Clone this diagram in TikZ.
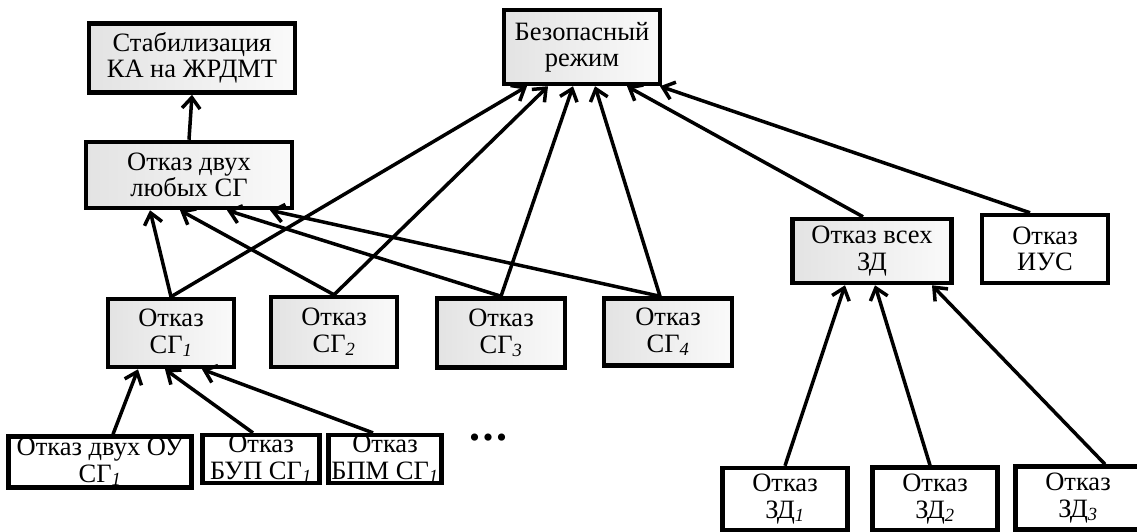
\documentclass[tikz,border=0pt]{standalone}
\usepackage{fontspec}
\setmainfont{Liberation Serif}
\usetikzlibrary{arrows.meta}

\begin{document}
\begin{tikzpicture}[x=1pt,y=-1pt,
  box/.style={draw,line width=4.5pt,inner sep=0pt,align=center,
    font=\fontsize{26.5}{26.5}\selectfont},
  grey/.style={box,left color=gray!22,right color=gray!4},
  plain/.style={box,fill=white},
  arr/.style={line width=3.5pt,-{Straight Barb[length=11pt,width=18pt,line width=3.5pt]}}]
\useasboundingbox (0,0) rectangle (1137,531);
% upper level
\node[grey,minimum width=206pt,minimum height=69pt] (stab) at (192,58) {Стабилизация\\КА на ЖРДМТ};
\node[grey,minimum width=156pt,minimum height=74pt] (safe) at (582,47) {Безопасный\\режим};
\node[grey,minimum width=206pt,minimum height=66pt] (two) at (189,175) {Отказ двух\\любых СГ};
% generators
\node[grey,minimum width=126pt,minimum height=68pt] (sg1) at (171,333) {Отказ\\СГ\textsubscript{\textit{1}}};
\node[grey,minimum width=126pt,minimum height=70pt] (sg2) at (334,332) {Отказ\\СГ\textsubscript{\textit{2}}};
\node[grey,minimum width=128pt,minimum height=69pt] (sg3) at (501,333) {Отказ\\СГ\textsubscript{\textit{3}}};
\node[grey,minimum width=128pt,minimum height=67pt] (sg4) at (668,332) {Отказ\\СГ\textsubscript{\textit{4}}};
\node[grey,minimum width=159pt,minimum height=64pt] (zd) at (872,251) {Отказ всех\\ЗД};
\node[plain,minimum width=126pt,minimum height=68pt] (ius) at (1045,249) {Отказ\\ИУС};
% lower level
\node[plain,minimum width=183pt,minimum height=51pt] (ou) at (100,462) {Отказ двух ОУ\\СГ\textsubscript{\textit{1}}};
\node[plain,minimum width=117pt,minimum height=45pt] (bup) at (261,459) {Отказ\\БУП СГ\textsubscript{\textit{1}}};
\node[plain,minimum width=113pt,minimum height=45pt] (bpm) at (385,459) {Отказ\\БПМ СГ\textsubscript{\textit{1}}};
\node[font=\fontsize{30}{30}\selectfont,inner sep=0pt] (dots) at (488,441) {\textbullet\kern3pt\textbullet\kern3pt\textbullet};
\node[plain,minimum width=125pt,minimum height=62pt] (zd1) at (785,499) {Отказ\\ЗД\textsubscript{\textit{1}}};
\node[plain,minimum width=125pt,minimum height=63pt] (zd2) at (935,499) {Отказ\\ЗД\textsubscript{\textit{2}}};
\node[plain,minimum width=125pt,minimum height=63pt] (zd3) at (1078,498) {Отказ\\ЗД\textsubscript{\textit{3}}};
% arrows
\draw[arr] (two.north) -- (stab.south);
\draw[arr] (sg1.north) -- ([xshift=-39pt]two.south);
\draw[arr] (sg2.north) -- ([xshift=-9pt]two.south);
\draw[arr] (sg3.north) -- ([xshift=38pt]two.south);
\draw[arr] ([xshift=-8pt]sg4.north) -- ([xshift=81pt]two.south);
\draw[arr] (sg1.north) -- ([xshift=-55pt]safe.south);
\draw[arr] (sg2.north) -- ([xshift=-34pt]safe.south);
\draw[arr] (sg3.north) -- ([xshift=-9pt]safe.south);
\draw[arr] ([xshift=-8pt]sg4.north) -- ([xshift=13pt]safe.south);
\draw[arr] ([xshift=-9pt]zd.north) -- ([xshift=45pt]safe.south);
\draw[arr] ([xshift=-15pt]ius.north) -- ([xshift=78pt]safe.south);
\draw[arr] ([xshift=13pt]ou.north) -- ([xshift=-33pt]sg1.south);
\draw[arr] ([xshift=-8pt]bup.north) -- ([xshift=-6pt]sg1.south);
\draw[arr] ([xshift=-12pt]bpm.north) -- ([xshift=31pt]sg1.south);
\draw[arr] (zd1.north) -- ([xshift=-27pt]zd.south);
\draw[arr] ([xshift=-5pt]zd2.north) -- ([xshift=3pt]zd.south);
\draw[arr] ([xshift=27pt]zd3.north) -- ([xshift=60pt]zd.south);
\end{tikzpicture}
\end{document}
